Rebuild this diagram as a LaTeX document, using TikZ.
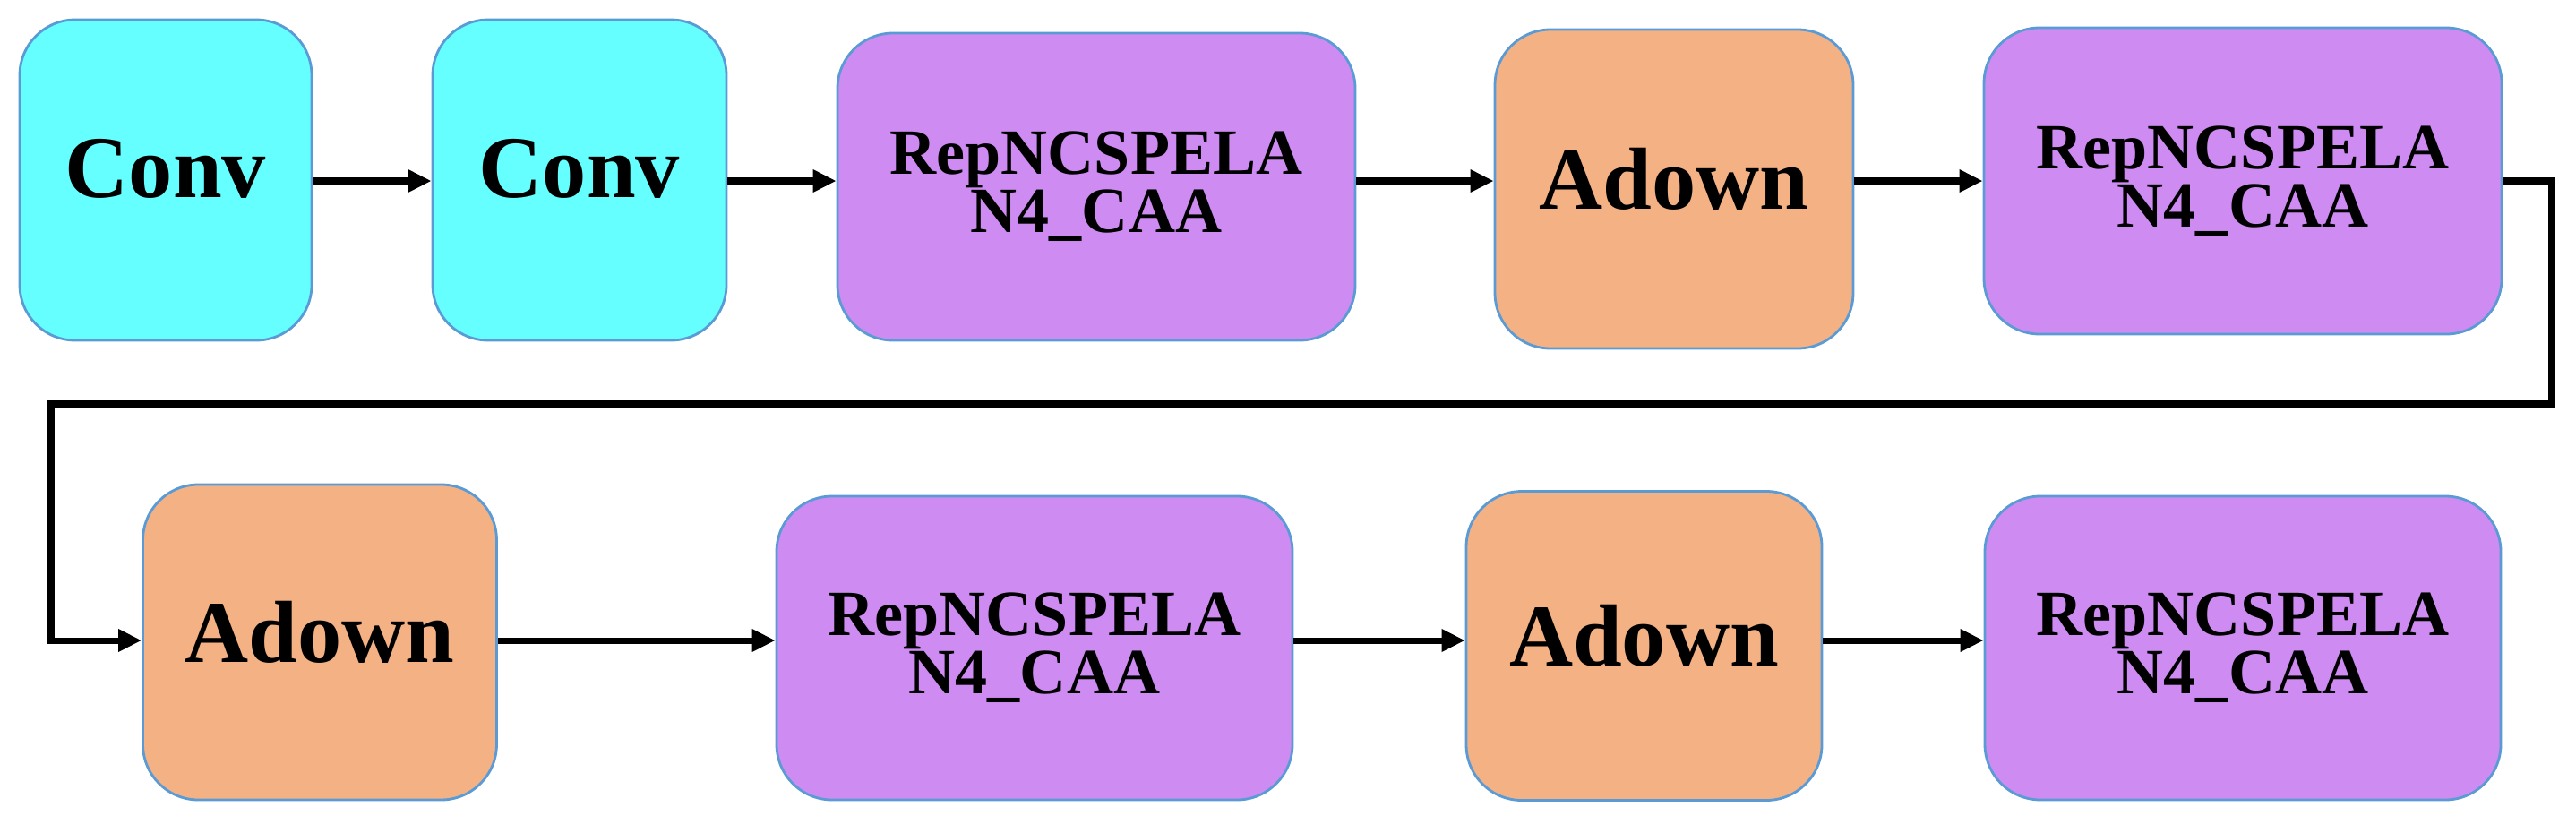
\documentclass[tikz,border=0pt]{standalone}
\usepackage{fontspec}
\setmainfont{Liberation Serif}
\usepackage{tikz}
\usetikzlibrary{arrows.meta}

\definecolor{convcol}{RGB}{102,255,255}
\definecolor{repcol}{RGB}{206,139,242}
\definecolor{downcol}{RGB}{243,177,132}
\definecolor{edgecol}{RGB}{91,155,213}

\begin{document}
\begin{tikzpicture}[
    block/.style={draw=edgecol, line width=0.8pt, rounded corners=0.62cm,
        align=center, inner sep=0pt},
    convbox/.style={block, fill=convcol, text depth=0.26cm, font=\bfseries\fontsize{28}{30}\selectfont},
    downbox/.style={block, fill=downcol, text depth=0.24cm, font=\bfseries\fontsize{28}{30}\selectfont},
    repbox/.style={block, fill=repcol, font=\bfseries\fontsize{20.5}{18.5}\selectfont},
    link/.style={line width=2pt, -{Triangle[length=0.26cm,width=0.24cm]}}
    ]
        \useasboundingbox (0,0) rectangle (28.76,-9.29);
        % top row
        \node[convbox, minimum width=3.26cm, minimum height=3.58cm] (conva) at (1.85,-2.01) {Conv};
        \node[convbox, minimum width=3.28cm, minimum height=3.58cm] (convb) at (6.47,-2.01) {Conv};
        \node[repbox, minimum width=5.78cm, minimum height=3.43cm] (repa) at (12.24,-2.085) {RepNCSPELA\\N4\_CAA};
        \node[downbox, minimum width=4.00cm, minimum height=3.56cm] (downa) at (18.69,-2.11) {Adown};
        \node[repbox, minimum width=5.78cm, minimum height=3.42cm] (repb) at (25.04,-2.02) {RepNCSPELA\\N4\_CAA};
        % bottom row
        \node[downbox, minimum width=3.95cm, minimum height=3.52cm] (downb) at (3.57,-7.17) {Adown};
        \node[repbox, minimum width=5.76cm, minimum height=3.39cm] (repc) at (11.55,-7.235) {RepNCSPELA\\N4\_CAA};
        \node[downbox, minimum width=3.97cm, minimum height=3.45cm] (downc) at (18.355,-7.21) {Adown};
        \node[repbox, minimum width=5.76cm, minimum height=3.39cm] (repd) at (25.04,-7.235) {RepNCSPELA\\N4\_CAA};

        % arrow levels and the turn between the rows
        \coordinate (rowa) at (0,-2.02);
        \coordinate (rowb) at (0,-7.15);
        \coordinate (turna) at (28.48,-4.51);
        \coordinate (turnb) at (0.57,-4.51);
        \draw[link] (conva.east |- rowa) -- (convb.west |- rowa);
        \draw[link] (convb.east |- rowa) -- (repa.west |- rowa);
        \draw[link] (repa.east |- rowa) -- (downa.west |- rowa);
        \draw[link] (downa.east |- rowa) -- (repb.west |- rowa);
        \draw[link] (repb.east |- rowa) -| (turna) -- (turnb) |- (downb.west |- rowb);
        \draw[link] (downb.east |- rowb) -- (repc.west |- rowb);
        \draw[link] (repc.east |- rowb) -- (downc.west |- rowb);
        \draw[link] (downc.east |- rowb) -- (repd.west |- rowb);
    \end{tikzpicture}
\end{document}
